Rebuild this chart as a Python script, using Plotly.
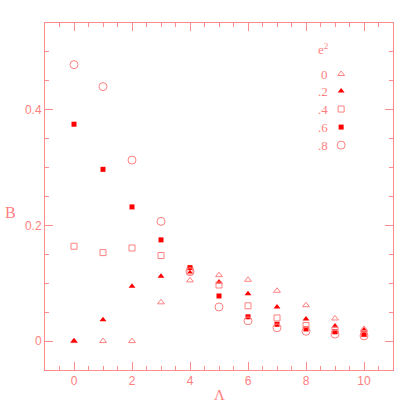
import plotly.graph_objects as go

# Lambda values and B(Lambda) for each e^2
lam = [0, 1, 2, 3, 4, 5, 6, 7, 8, 9, 10]
b_e0 = [0.0, 0.0, 0.0, 0.067, 0.105, 0.114, 0.106, 0.087, 0.062, 0.039, 0.021]
b_e2 = [0.0, 0.037, 0.095, 0.112, 0.118, 0.102, 0.082, 0.059, 0.038, 0.026, 0.019]
b_e4 = [0.164, 0.153, 0.161, 0.148, 0.122, 0.097, 0.061, 0.040, 0.027, 0.019, 0.013]
b_e6 = [0.375, 0.297, 0.232, 0.175, 0.127, 0.078, 0.042, 0.029, 0.021, 0.016, 0.012]
b_e8 = [0.478, 0.440, 0.313, 0.207, 0.120, 0.059, 0.035, 0.023, 0.017, 0.012, 0.009]

legend_labels = ["0", ".2", ".4", ".6", ".8"]

PINK = "#ff8080"
RED = "#ff0000"
AX = "#ff8c8c"

styles = [
    dict(symbol="triangle-up-open", size=6, color=PINK, line=dict(width=1, color=PINK)),
    dict(symbol="triangle-up", size=6, color=RED, line=dict(width=0)),
    dict(symbol="square-open", size=6, color=PINK, line=dict(width=1, color=PINK)),
    dict(symbol="square", size=5, color=RED, line=dict(width=0)),
    dict(symbol="circle-open", size=8, color=PINK, line=dict(width=1, color=PINK)),
]
series = [b_e0, b_e2, b_e4, b_e6, b_e8]

fig = go.Figure()
for ys, st in zip(series, styles):
    fig.add_trace(go.Scatter(x=lam, y=ys, mode="markers", marker=st,
                             showlegend=False, hoverinfo="skip"))

# legend keys drawn on an overlay axis in [0,1]
key_x = 0.851
key_y = [0.853, 0.804, 0.752, 0.700, 0.648]
for lab, yy, st in zip(legend_labels, key_y, styles):
    fig.add_trace(go.Scatter(x=[key_x], y=[yy], mode="markers", marker=st,
                             xaxis="x2", yaxis="y2", showlegend=False,
                             hoverinfo="skip"))
    fig.add_annotation(x=0.818, y=yy, xref="paper", yref="paper", text=lab,
                       showarrow=False, xanchor="right", yanchor="middle",
                       font=dict(size=13, color=PINK, family="Liberation Serif"))

fig.add_annotation(x=0.799, y=0.925, xref="paper", yref="paper",
                   text="e<sup>2</sup>", showarrow=False,
                   xanchor="center", yanchor="middle",
                   font=dict(size=13, color=PINK, family="Liberation Serif"))
fig.add_annotation(x=-0.098, y=0.455, xref="paper", yref="paper", text="B",
                   showarrow=False, xanchor="center", yanchor="middle",
                   font=dict(size=16, color=PINK, family="Liberation Serif"))
fig.add_annotation(x=0.5, y=-0.072, xref="paper", yref="paper", text="Λ",
                   showarrow=False, xanchor="center", yanchor="middle",
                   font=dict(size=15, color=PINK, family="Liberation Serif"))

axis_common = dict(showgrid=False, zeroline=False, showline=True, linecolor=AX,
                   linewidth=1, mirror="ticks", ticks="inside", tickcolor=AX,
                   tickwidth=1, ticklen=8,
                   tickfont=dict(size=12, color=PINK, family="Liberation Sans"))

fig.update_layout(
    width=415, height=415,
    margin=dict(l=45, r=22, t=23, b=45),
    plot_bgcolor="white", paper_bgcolor="white",
    xaxis=dict(range=[-1, 11], tickvals=[0, 2, 4, 6, 8, 10],
               minor=dict(dtick=0.5, tick0=0, ticklen=4, ticks="inside",
                          tickcolor=AX, showgrid=False),
               **axis_common),
    yaxis=dict(range=[-0.05, 0.55], tickvals=[0, 0.2, 0.4],
               ticktext=["0", "0.2", "0.4"],
               minor=dict(dtick=0.05, tick0=0, ticklen=4, ticks="inside",
                          tickcolor=AX, showgrid=False),
               **axis_common),
    xaxis2=dict(range=[0, 1], overlaying="x", visible=False, fixedrange=True),
    yaxis2=dict(range=[0, 1], overlaying="y", visible=False, fixedrange=True),
)

# drop the default page margin so the figure sits at the window's corner
fig.write_html("out.html", config={"displayModeBar": False},
               post_script="document.body.style.margin='0';"
               "document.body.style.overflow='hidden';")
